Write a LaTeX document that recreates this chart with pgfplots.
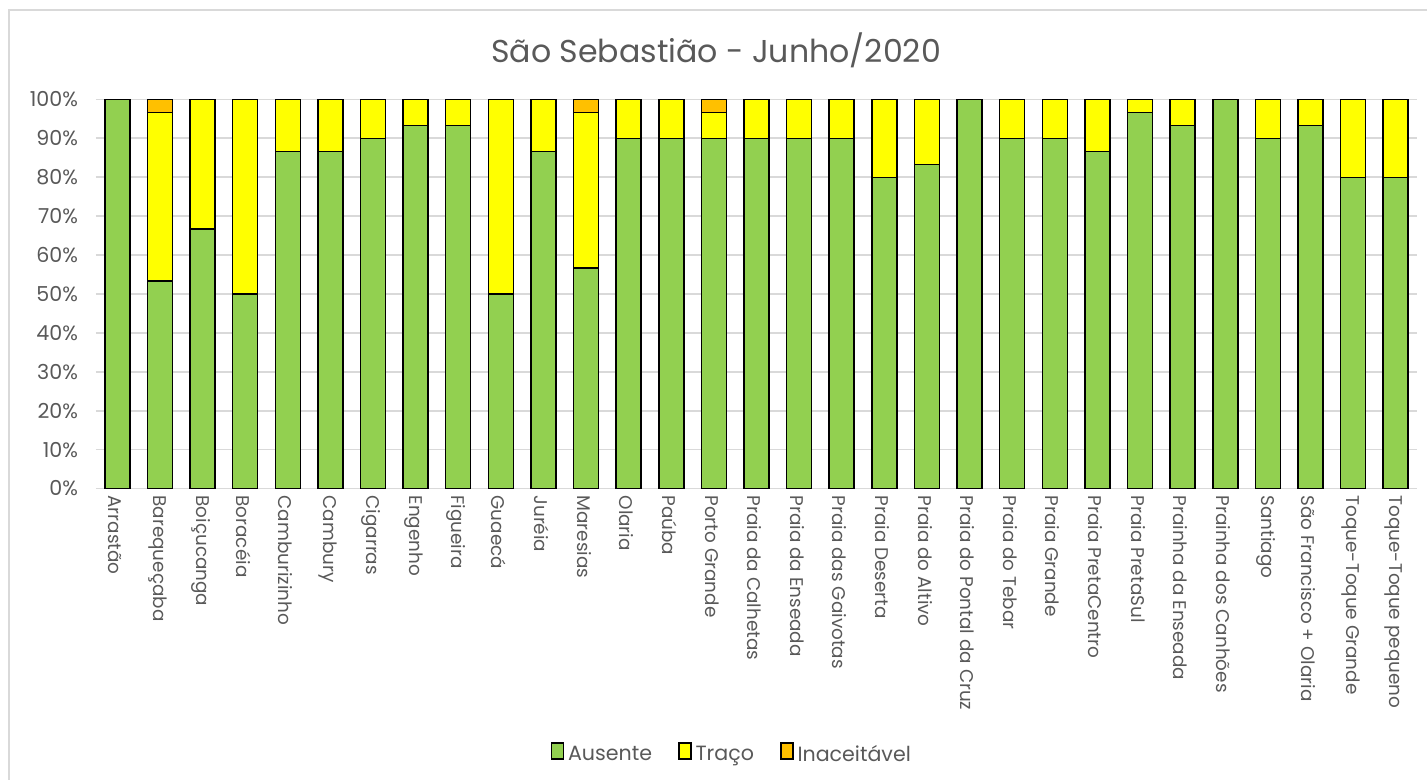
\documentclass[border=0pt]{standalone}
\usepackage{fontspec}
\setmainfont{Poppins}
\usepackage{pgfplots}
\usepackage{pgfplotstable}
\pgfplotsset{compat=1.18}
\definecolor{ausente}{HTML}{92D050}
\definecolor{traco}{HTML}{FFFF00}
\definecolor{inac}{HTML}{FFC000}
\definecolor{txt}{HTML}{595959}
\definecolor{gridc}{HTML}{D9D9D9}

\pgfplotstableread{
x aus tra ina
0 100 0 0
1 53.33 43.34 3.33
2 66.67 33.33 0
3 50 50 0
4 86.67 13.33 0
5 86.67 13.33 0
6 90 10 0
7 93.33 6.67 0
8 93.33 6.67 0
9 50 50 0
10 86.67 13.33 0
11 56.67 40 3.33
12 90 10 0
13 90 10 0
14 90 6.67 3.33
15 90 10 0
16 90 10 0
17 90 10 0
18 80 20 0
19 83.33 16.67 0
20 100 0 0
21 90 10 0
22 90 10 0
23 86.67 13.33 0
24 96.67 3.33 0
25 93.33 6.67 0
26 100 0 0
27 90 10 0
28 93.33 6.67 0
29 80 20 0
30 80 20 0
}\data

\tikzset{sqlegend/.style={legend image code/.code={\draw[##1,draw=black,line width=0.75pt] (0pt,-3.3pt) rectangle (6.6pt,3.3pt);}}}

\begin{document}
\begin{tikzpicture}[x=1pt,y=1pt]
\useasboundingbox (0,0) rectangle (713.5,390);
\clip (0,0) rectangle (713.5,390);
\draw[gridc, line width=0.9pt] (4.5,-10) -- (4.5,385) -- (730,385);
\node[text=txt, font=\fontsize{15.8}{18}\selectfont] at (358,365) {São Sebastião - Junho/2020};
\begin{axis}[
  at={(48pt,145.75pt)}, anchor=south west,
  width=660.5pt, height=194.5pt, scale only axis,
  ybar stacked, bar width=12.5pt,
  xmin=-0.5, xmax=30.5, ymin=0, ymax=100,
  ytick={0,10,...,100},
  yticklabel={\pgfmathprintnumber{\tick}\%},
  /pgf/number format/assume math mode=true,
  xtick={0,...,30},
  xticklabels={Arrastão,Barequeçaba,Boiçucanga,Boracéia,Camburizinho,Cambury,Cigarras,Engenho,Figueira,Guaecá,Juréia,Maresias,Olaria,Paúba,Porto Grande,Praia da Calhetas,Praia da Enseada,Praia das Gaivotas,Praia Deserta,Praia do Altivo,Praia do Pontal da Cruz,Praia do Tebar,Praia Grande,Praia PretaCentro,Praia PretaSul,Prainha da Enseada,Prainha dos Canhões,Santiago,São Francisco + Olaria,Toque-Toque Grande,Toque-Toque pequeno},
  xticklabel style={rotate=-90, anchor=west, text=txt, font=\fontsize{9.2}{10}\selectfont, yshift=-1pt},
  yticklabel style={text=txt, font=\fontsize{10.3}{11}\selectfont, xshift=-5.5pt},
  major tick length=0pt,
  axis line style={draw=none},
  ymajorgrids, grid style={gridc, line width=0.9pt},
  legend style={at={(0.482,-0.685)}, anchor=center, draw=none, legend columns=3,
    font=\fontsize{10.3}{11}\selectfont, text=txt,
    /tikz/every even column/.append style={column sep=11pt}},
]
\addplot[fill=ausente, draw=black, line width=0.75pt, sqlegend] table[x=x,y=aus]{\data};
\addplot[fill=traco, draw=black, line width=0.75pt, sqlegend] table[x=x,y=tra]{\data};
\addplot[fill=inac, draw=black, line width=0.75pt, sqlegend] table[x=x,y=ina]{\data};
\legend{Ausente,Traço,Inaceitável}
\end{axis}
\end{tikzpicture}
\end{document}
